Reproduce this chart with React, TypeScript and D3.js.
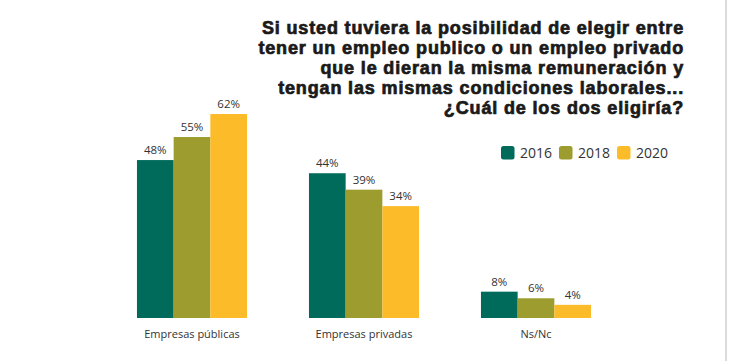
import React from "react";
import * as d3 from "d3";

const categories = ["Empresas públicas", "Empresas privadas", "Ns/Nc"];
const years = ["2016", "2018", "2020"];
const values2016 = [48, 44, 8];
const values2018 = [55, 39, 6];
const values2020 = [62, 34, 4];
const colors = ["#006b5b", "#9c9c2f", "#fcbb28"];
const titleLines = [
  "Si usted tuviera la posibilidad de elegir entre",
  "tener un empleo publico o un empleo privado",
  "que le dieran la misma remuneración y",
  "tengan las mismas condiciones laborales...",
  "¿Cuál de los dos eligiría?",
];

const W = 730;
const H = 361;

export default function App() {
  const series = [values2016, values2018, values2020];

  const x0 = d3.scaleBand<string>()
    .domain(categories)
    .range([106, 622])
    .paddingInner(0.36)
    .paddingOuter(0.18);
  const x1 = d3.scaleBand<string>()
    .domain(years)
    .range([0, x0.bandwidth()]);
  const y = d3.scaleLinear().domain([0, 62]).range([318, 114]);

  const legendX = d3.scalePoint<string>().domain(years).range([501, 617]);

  return (
    <svg width={W} height={H} style={{ position: "absolute", left: 0, top: 0, background: "#fff" }}>
      <line x1={726} x2={726} y1={0} y2={H} stroke="#cfcfcf" strokeWidth={1.5} />

      {/* heavy title, thickened with a thin stroke */}
      <g
        fontFamily="'Liberation Sans', Arial, sans-serif"
        fontWeight="bold"
        fontSize={18}
        fill="#1a1a1a"
        stroke="#1a1a1a"
        strokeWidth={0.7}
        letterSpacing={0.85}
        textAnchor="end"
      >
        {titleLines.map((t, i) => (
          <text key={i} x={684} y={34 + i * 20}>{t}</text>
        ))}
      </g>

      {categories.map((c, ci) => (
        <g key={c} transform={`translate(${x0(c)},0)`}>
          {years.map((yr, si) => {
            const v = series[si][ci];
            const bx = x1(yr)!;
            return (
              <g key={yr}>
                <rect x={bx} y={y(v)} width={x1.bandwidth()} height={y(0) - y(v)} fill={colors[si]} />
                <text
                  x={bx + x1.bandwidth() / 2}
                  y={y(v) - 6}
                  textAnchor="middle"
                  fontFamily="'Open Sans', sans-serif"
                  fontSize={11.5}
                  fill="#333"
                >
                  {v}%
                </text>
              </g>
            );
          })}
          <text
            x={x0.bandwidth() / 2}
            y={338}
            textAnchor="middle"
            fontFamily="'Open Sans', sans-serif"
            fontSize={11}
            fill="#333"
          >
            {c}
          </text>
        </g>
      ))}

      {years.map((yr, i) => (
        <g key={yr} transform={`translate(${legendX(yr)},146)`}>
          <rect width={13.5} height={13.5} rx={2.5} fill={colors[i]} />
          <text x={19} y={12} fontFamily="'Open Sans', sans-serif" fontSize={14} fill="#333">{yr}</text>
        </g>
      ))}
    </svg>
  );
}
